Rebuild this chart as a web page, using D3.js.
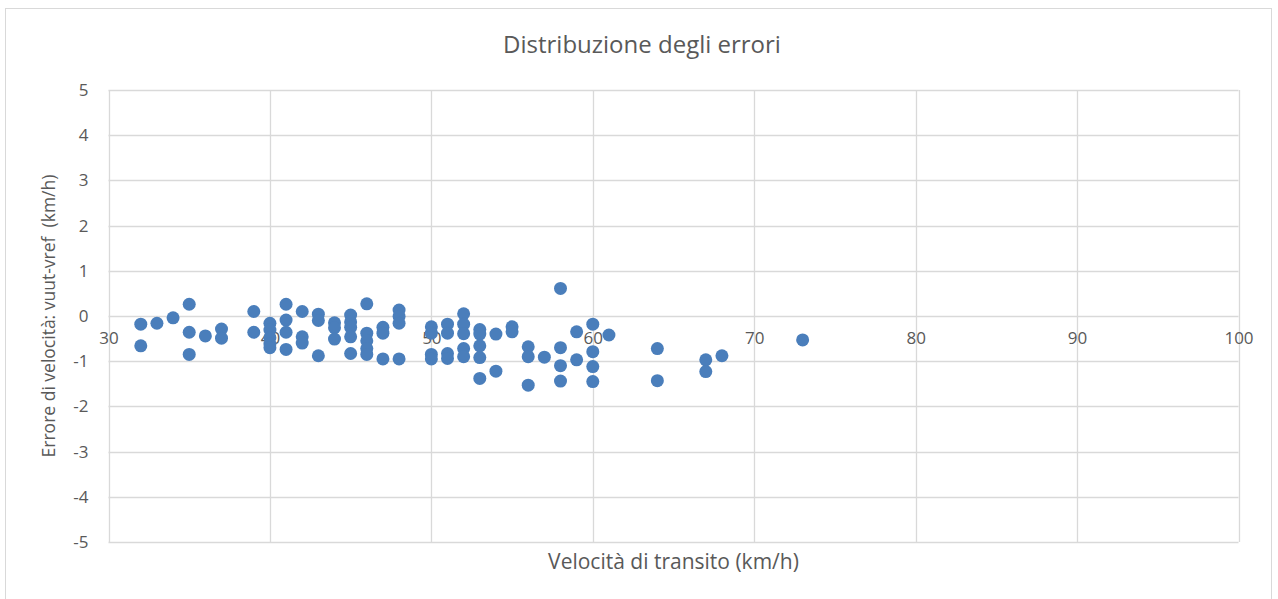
<!DOCTYPE html>
<html>
<head>
<meta charset="utf-8">
<script src="https://cdn.jsdelivr.net/npm/d3@7"></script>
<style>
  body { margin: 0; background: #fff; }
  svg text { font-family: "Open Sans", Lato, sans-serif; fill: #595959; }
</style>
</head>
<body>
<div id="chart"></div>
<script>
// Data: transit speed (km/h) and speed error (km/h)
const speeds = [
  32, 32, 33, 34, 35, 35, 35, 36, 37, 37,
  39, 39, 40, 40, 40, 40, 40, 41, 41, 41, 41,
  42, 42, 42, 43, 43, 43, 44, 44, 44,
  45, 45, 45, 45, 45, 46, 46, 46, 46, 46,
  47, 47, 47, 48, 48, 48, 48,
  50, 50, 50, 50, 51, 51, 51, 51,
  52, 52, 52, 52, 52, 53, 53, 53, 53, 53,
  54, 54, 55, 55, 56, 56, 56, 57,
  58, 58, 58, 58, 59, 59, 60, 60, 60, 60, 61,
  64, 64, 67, 67, 68, 73
];
const errors = [
  -0.18, -0.66, -0.16, -0.04, 0.26, -0.36, -0.85, -0.44, -0.29, -0.49,
  0.10, -0.36, -0.16, -0.31, -0.48, -0.62, -0.70, 0.26, -0.09, -0.36, -0.74,
  0.10, -0.46, -0.60, 0.04, -0.10, -0.88, -0.15, -0.26, -0.51,
  0.02, -0.13, -0.25, -0.46, -0.83, 0.27, -0.38, -0.55, -0.72, -0.85,
  -0.25, -0.38, -0.95, 0.13, -0.01, -0.16, -0.95,
  -0.24, -0.38, -0.85, -0.95, -0.18, -0.38, -0.83, -0.94,
  0.05, -0.18, -0.39, -0.72, -0.90, -0.30, -0.40, -0.66, -0.92, -1.38,
  -0.40, -1.22, -0.24, -0.35, -0.68, -0.90, -1.53, -0.91,
  0.61, -0.70, -1.10, -1.44, -0.35, -0.97, -0.18, -0.79, -1.12, -1.45, -0.42,
  -0.72, -1.43, -0.97, -1.23, -0.88, -0.53
];
const xTicks = [30, 40, 50, 60, 70, 80, 90, 100];
const yTicks = [5, 4, 3, 2, 1, 0, -1, -2, -3, -4, -5];

const width = 1278, height = 599;
const plot = { left: 108.5, right: 1238.5, top: 90, bottom: 542 };

const svg = d3.select("#chart").append("svg")
    .attr("width", width)
    .attr("height", height);

// chart border
svg.append("rect")
    .attr("x", 5.5).attr("y", 8.5)
    .attr("width", 1266).attr("height", 600)
    .attr("fill", "#fff")
    .attr("stroke", "#d9d9d9");

const x = d3.scaleLinear().domain([30, 100]).range([plot.left, plot.right]);
const y = d3.scaleLinear().domain([-5, 5]).range([plot.bottom, plot.top]);

// gridlines
svg.append("g").selectAll("line")
    .data(yTicks)
    .join("line")
    .attr("x1", plot.left).attr("x2", plot.right)
    .attr("y1", d => Math.round(y(d)) + 0.5)
    .attr("y2", d => Math.round(y(d)) + 0.5)
    .attr("stroke", "#d9d9d9")
    .attr("stroke-width", 1.3);

svg.append("g").selectAll("line")
    .data(xTicks)
    .join("line")
    .attr("x1", d => Math.round(x(d)) + 0.5)
    .attr("x2", d => Math.round(x(d)) + 0.5)
    .attr("y1", plot.top).attr("y2", plot.bottom)
    .attr("stroke", "#d9d9d9")
    .attr("stroke-width", 1.3);

// x axis labels sit along the zero line
const xAxis = svg.append("g")
    .attr("transform", `translate(0, ${y(0)})`)
    .call(d3.axisBottom(x).tickValues(xTicks).tickFormat(d => String(d)).tickSize(0).tickPadding(16));
xAxis.select(".domain").remove();
xAxis.selectAll("text")
    .style("font-size", "17px")
    .attr("fill", "#595959");

const yAxis = svg.append("g")
    .attr("transform", `translate(${plot.left}, 0)`)
    .call(d3.axisLeft(y).tickValues(yTicks).tickFormat(d => String(d)).tickSize(0).tickPadding(20));
yAxis.select(".domain").remove();
yAxis.selectAll("text")
    .style("font-size", "17px")
    .attr("fill", "#595959");

// points
svg.append("g").selectAll("circle")
    .data(speeds.map((s, i) => ({ s: s, e: errors[i] })))
    .join("circle")
    .attr("cx", d => x(d.s))
    .attr("cy", d => y(d.e))
    .attr("r", 6.5)
    .attr("fill", "#4a7ebb");

// titles
svg.append("text")
    .attr("x", 642).attr("y", 53)
    .attr("text-anchor", "middle")
    .style("font-size", "24px")
    .text("Distribuzione degli errori");

svg.append("text")
    .attr("x", (plot.left + plot.right) / 2).attr("y", 569)
    .attr("text-anchor", "middle")
    .style("font-size", "21px")
    .text("Velocità di transito (km/h)");

svg.append("text")
    .attr("transform", `translate(55, ${(plot.top + plot.bottom) / 2}) rotate(-90)`)
    .attr("text-anchor", "middle")
    .style("font-size", "17.5px")
    .style("white-space", "pre")
    .text("Errore di velocità: vuut-vref  (km/h)");
</script>
</body>
</html>
